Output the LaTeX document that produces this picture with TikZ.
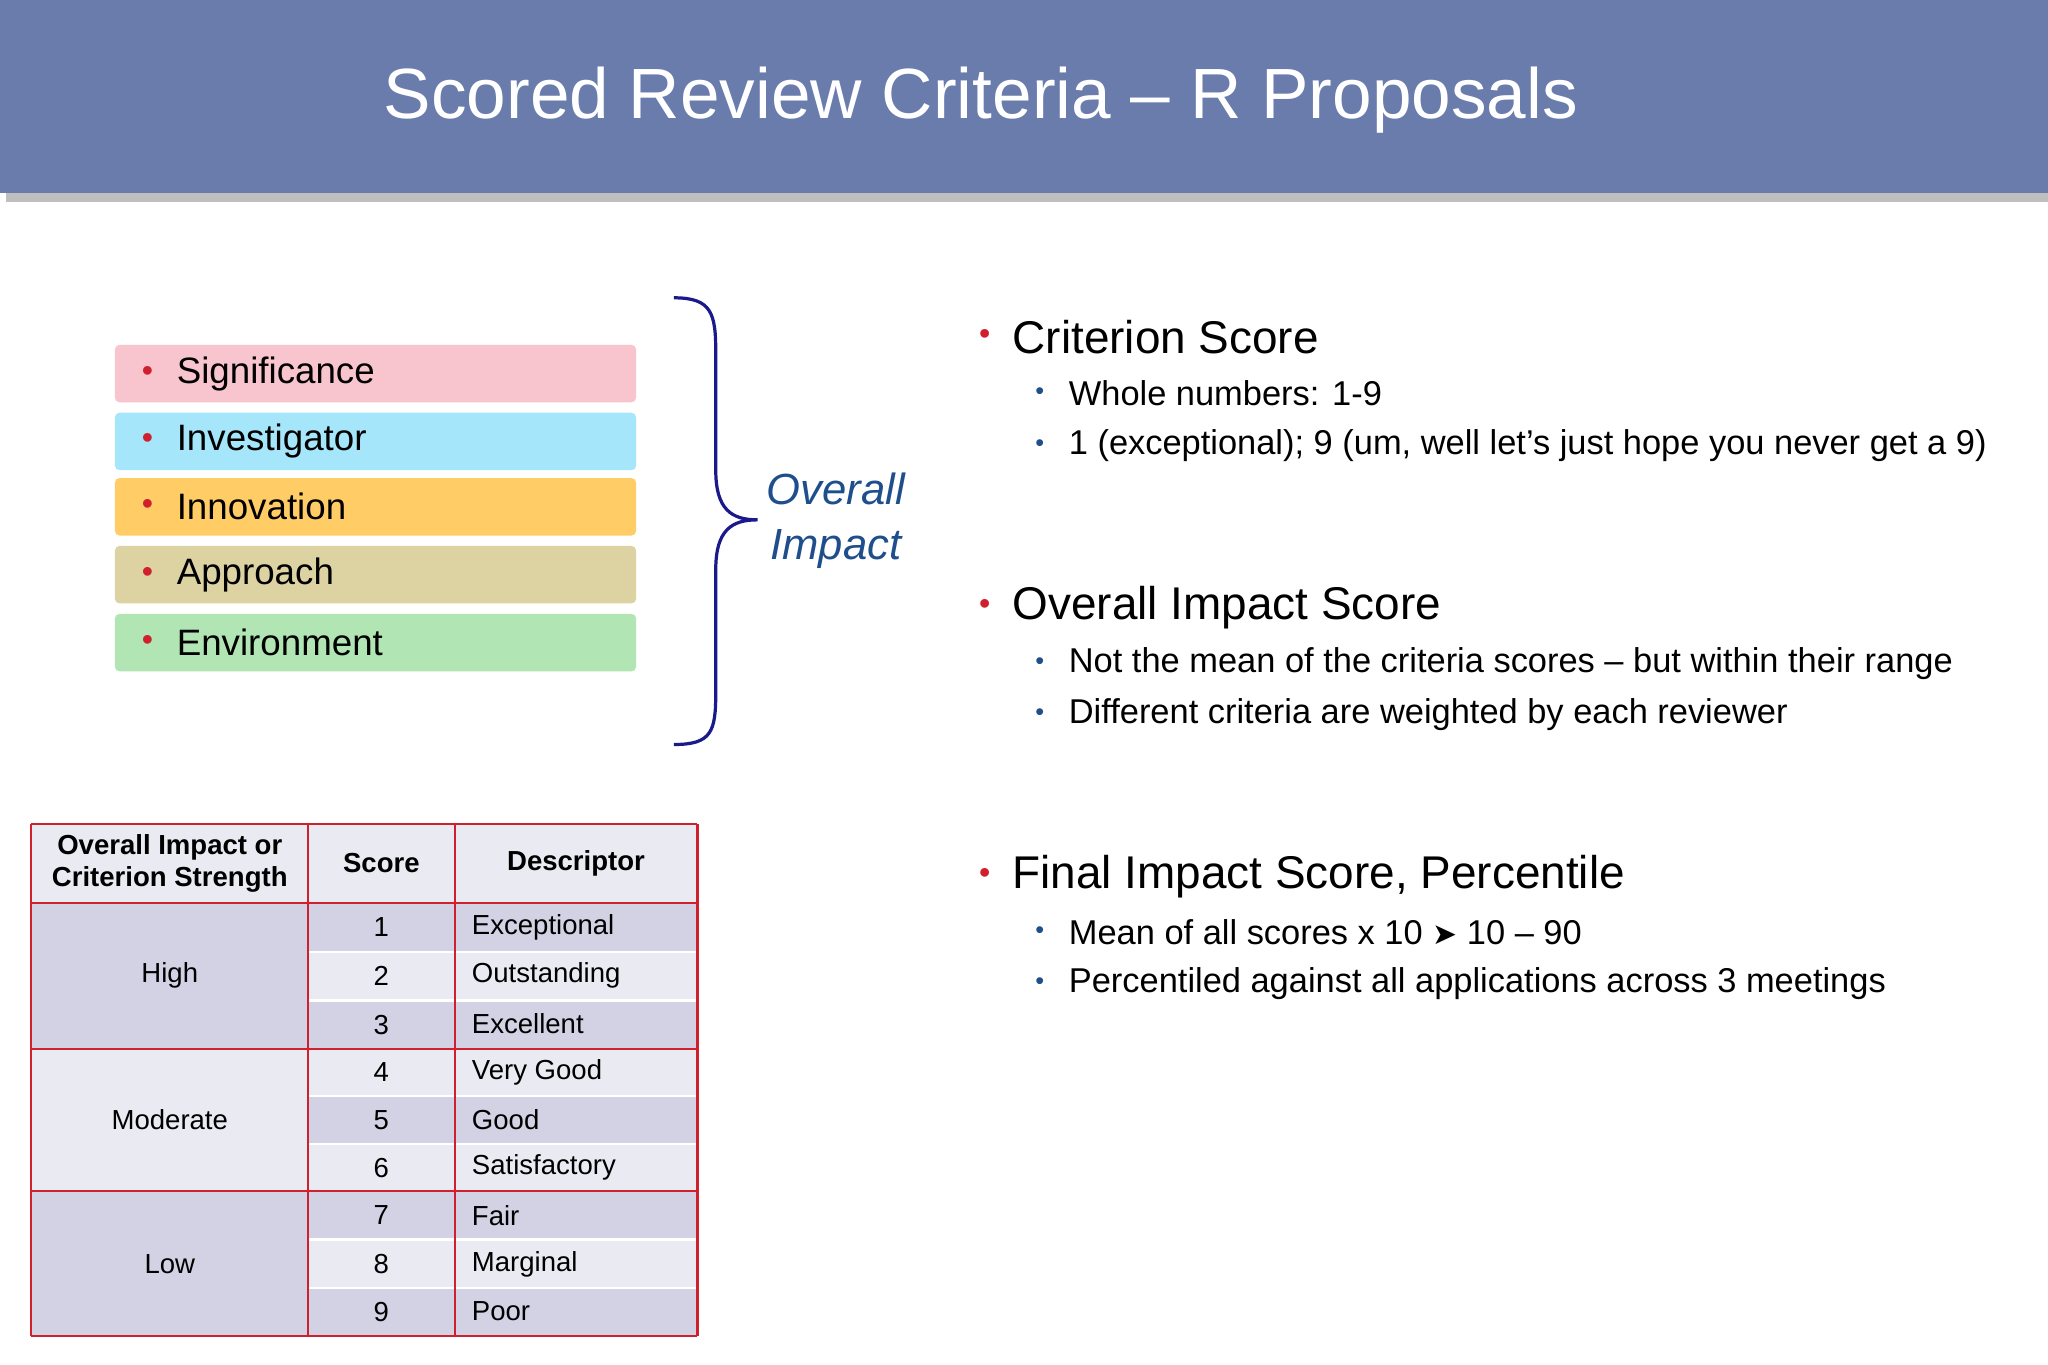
\documentclass[tikz,border=0pt]{standalone}
\usepackage{fontspec}
\setmainfont{Liberation Sans}
\newfontfamily\dv{DejaVu Sans}
\usetikzlibrary{shadows}
\definecolor{bar}{HTML}{6A7CAC}
\definecolor{bred}{HTML}{D0202E}
\definecolor{bblue}{HTML}{1F4E8C}
\definecolor{brace}{HTML}{1A1A8C}
\definecolor{cA}{HTML}{F8C5CF}
\definecolor{cB}{HTML}{A6E6FA}
\definecolor{cC}{HTML}{FFCC66}
\definecolor{cD}{HTML}{DDD2A2}
\definecolor{cE}{HTML}{B1E6B4}
\definecolor{tdark}{HTML}{D2D2E4}
\definecolor{tlight}{HTML}{EAEAF2}
\tikzset{
  crit/.style={anchor=west,inner sep=0pt,font=\fontsize{16}{18}\selectfont},
  main/.style={anchor=west,inner sep=0pt,font=\fontsize{20}{22}\selectfont},
  sub/.style={anchor=west,inner sep=0pt,font=\fontsize{15}{17}\selectfont},
  rdot/.style={text=bred,font=\fontsize{14}{16}\selectfont,inner sep=0pt},
  bdot/.style={text=bblue,font=\fontsize{11}{13}\selectfont,inner sep=0pt},
  tt/.style={inner sep=0pt,font=\fontsize{12}{14}\selectfont},
  th/.style={inner sep=0pt,font=\fontsize{12}{14}\selectfont\bfseries,align=center},
}
\begin{document}
\begin{tikzpicture}[x=0.02cm,y=-0.02cm]
\useasboundingbox (0,0) rectangle (1568,1045);
\fill[white] (0,0) rectangle (1568,1045);
\fill[bar,drop shadow={opacity=0.5,shadow yshift=-4pt}] (0,0) rectangle (1568,148);
\node[text=white,font=\fontsize{31}{34}\selectfont] (title) at (751,77) {Scored Review Criteria – R Proposals};
% criteria boxes
\foreach \c/\y/\t/\n in {cA/286/Significance/s,cB/338/Investigator/i,cC/388/Innovation/n,cD/440/Approach/a,cE/492/Environment/e}{
  \fill[\c,rounded corners=2pt] (88,\y-22) rectangle (487,\y+22);
  \node[rdot] (d\n) at (113,\y) {•};
  \node[crit] (t\n) at (135,\y) {\t};
}
% brace
\coordinate (b1) at (516,228);
\coordinate (b2) at (516,570);
\coordinate (bt) at (580,398);
\draw[brace,line width=1.4pt] (b1) .. controls (545,228) and (548,240) .. (548,270)
  -- (548,360) .. controls (548,390) and (560,398) .. (bt)
  .. controls (560,398) and (548,406) .. (548,436) -- (548,530)
  .. controls (548,560) and (545,570) .. (b2);
\node[text=bblue,font=\fontsize{19}{24}\selectfont\itshape,align=center] (oi) at (640,399) {Overall\\Impact};
% right text
\foreach \y/\t/\n in {258/Criterion Score/m1,465/Overall Impact Score/m2,671/{Final Impact Score, Percentile}/m3}{
  \node[rdot] (r\n) at (754,\y) {•};
  \node[main] (\n) at (775,\y) {\t};
}
\foreach \y/\t/\n in {301/{Whole numbers: 1-9}/s1,341/{1 (exceptional); 9 (um, well let’s just hope you never get a 9)}/s2,508/{Not the mean of the criteria scores – but within their range}/s3,547/{Different criteria are weighted by each reviewer}/s4,714/{Mean of all scores x 10 {\dv\fontsize{13}{15}\selectfont ➤} 10 – 90}/s5,753/{Percentiled against all applications across 3 meetings}/s6}{
  \node[bdot] (b\n) at (796,\y) {•};
  \node[sub] (\n) at (818,\y) {\t};
}
% table
\fill[tlight] (24,631) rectangle (534,691);
\foreach \i/\a/\b in {1/691/729,2/729/766,3/766/803,4/803/839,5/839/876,6/876/912,7/912/949,8/949/986,9/986/1023}{
  \ifodd\i \fill[tdark] (236,\a) rectangle (534,\b); \else \fill[tlight] (236,\a) rectangle (534,\b); \fi
  \node[tt] (sc\i) at (292,{(\a+\b)/2}) {\i};
}
\fill[tdark] (24,691) rectangle (236,803);
\fill[tlight] (24,803) rectangle (236,912);
\fill[tdark] (24,912) rectangle (236,1023);
\foreach \y in {729,766,839,876,949,986} \draw[white,line width=1pt] (236,\y) -- (534,\y);
\foreach \y in {631,691,803,912,1023} \draw[bred,line width=0.9pt] (24,\y) -- (534,\y);
\foreach \x in {24,236,348,534} \draw[bred,line width=0.9pt] (\x,631) -- (\x,1023);
\node[th] (h1) at (130,661) {Overall Impact or\\Criterion Strength};
\node[th] (h2) at (292,661) {Score};
\node[th] (h3) at (441,661) {Descriptor};
\node[tt] (g1) at (130,747) {High};
\node[tt] (g2) at (130,857) {Moderate};
\node[tt] (g3) at (130,968) {Low};
\foreach \i/\y/\t in {1/710/Exceptional,2/747/Outstanding,3/784/Excellent,4/821/Very Good,5/857/Good,6/894/Satisfactory,7/931/Fair,8/968/Marginal,9/1004/Poor}
  \node[tt,anchor=west] (ds\i) at (361,\y) {\t};
\end{tikzpicture}
\end{document}
